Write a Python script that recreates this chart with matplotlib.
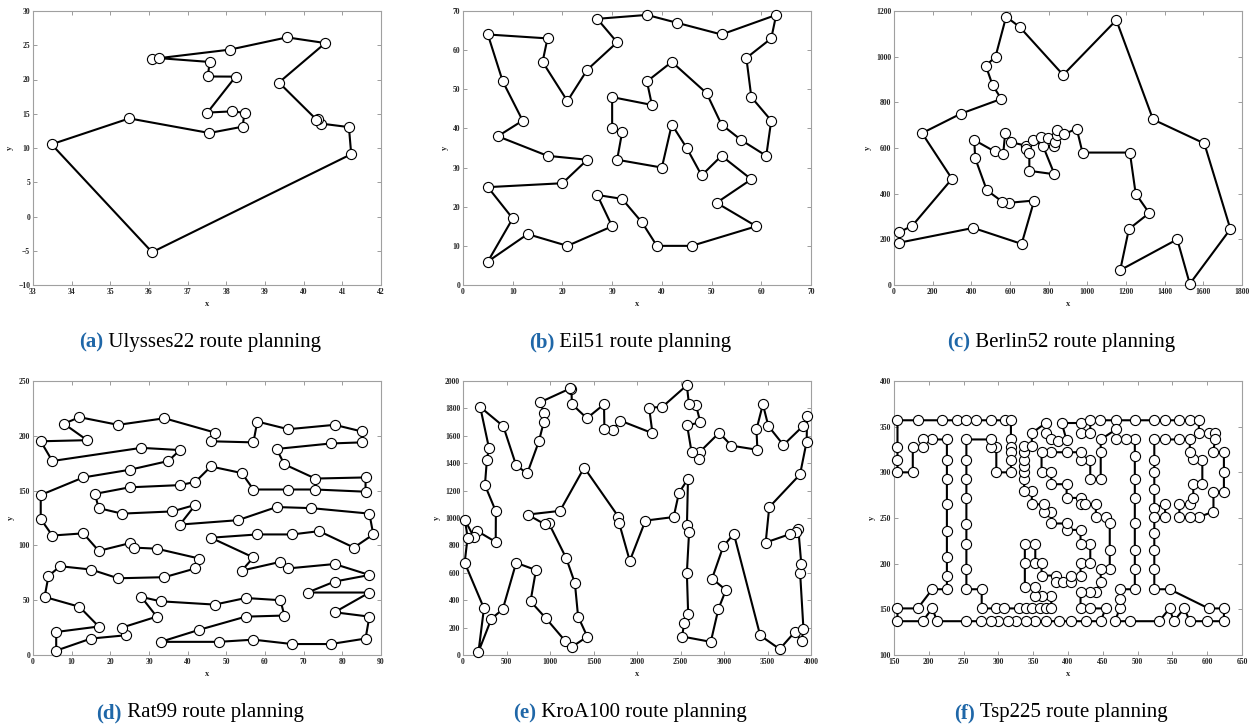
import matplotlib.pyplot as plt

# tours in visiting order, (x, y) per city
ulysses_route = [(38.09, 24.36), (36.09, 23.00), (36.26, 23.12), (37.57, 22.56), (37.52, 20.44),
                 (38.24, 20.42), (37.51, 15.17), (38.15, 15.35), (38.47, 15.13), (38.42, 13.11),
                 (37.56, 12.19), (35.49, 14.32), (33.48, 10.54), (36.08, -5.21), (41.23, 9.10),
                 (41.17, 13.05), (40.44, 13.57), (40.37, 14.23), (40.33, 14.15), (39.36, 19.56),
                 (40.56, 25.32), (39.57, 26.15)]

eil_x = [5, 17, 16, 21, 25, 31, 27, 37, 43, 52, 63, 62, 57, 58, 62, 61, 56, 52, 49, 42,
         37, 38, 30, 30, 32, 31, 40, 42, 45, 48, 52, 58, 51, 59, 46, 39, 36, 32, 27, 30,
         21, 13, 5, 10, 5, 20, 25, 17, 7, 12, 8]
eil_y = [64, 63, 57, 47, 55, 62, 68, 69, 67, 64, 69, 63, 58, 48, 42, 33, 37, 41, 49, 57,
         52, 46, 48, 40, 39, 32, 30, 41, 35, 28, 33, 27, 21, 15, 10, 10, 16, 22, 23, 15,
         10, 13, 6, 17, 25, 26, 32, 33, 38, 42, 52]

berlin_route = [(25, 185), (410, 250), (660, 180), (725, 370), (595, 360), (560, 365), (480, 415),
                (420, 555), (415, 635), (520, 585), (565, 575), (575, 665), (605, 625), (685, 610),
                (685, 595), (700, 580), (700, 500), (830, 485), (770, 610), (720, 635), (760, 650),
                (795, 645), (830, 610), (835, 625), (845, 655), (845, 680), (880, 660), (945, 685),
                (975, 580), (1220, 580), (1250, 400), (1320, 315), (1215, 245), (1170, 65),
                (1465, 200), (1530, 5), (1740, 245), (1605, 620), (1340, 725), (1150, 1160),
                (875, 920), (650, 1130), (580, 1175), (525, 1000), (475, 960), (510, 875),
                (555, 815), (345, 750), (145, 665), (300, 465), (95, 260), (25, 230)]

rat_route = [(6, 4), (15, 15), (24, 18), (23, 25), (32, 35), (28, 53), (33, 49), (47, 46), (55, 52), (64, 50),
             (65, 36), (55, 35), (43, 23), (33, 12), (48, 12), (57, 14), (67, 10), (77, 10), (86, 15), (87, 35),
             (78, 39), (87, 57), (71, 57), (78, 67), (87, 73), (78, 83), (66, 79), (64, 85), (54, 77), (57, 89),
             (46, 107), (58, 110), (67, 110), (74, 113), (83, 98), (88, 110), (87, 129), (72, 134), (63, 135),
             (53, 123), (38, 119), (42, 137), (36, 131), (23, 129), (17, 134), (16, 147), (25, 153), (38, 155),
             (42, 158), (46, 172), (54, 166), (57, 151), (66, 151), (73, 151), (86, 149), (86, 162), (73, 161),
             (65, 174), (63, 188), (77, 193), (85, 194), (85, 204), (78, 210), (66, 206), (58, 213), (57, 194),
             (46, 195), (47, 203), (34, 216), (22, 210), (12, 217), (8, 211), (14, 196), (2, 195), (5, 177),
             (28, 189), (38, 187), (35, 177), (25, 169), (13, 162), (2, 146), (2, 124), (5, 109), (13, 111),
             (17, 95), (25, 102), (26, 98), (32, 97), (43, 88), (42, 79), (34, 71), (22, 70), (15, 78), (7, 81),
             (4, 72), (3, 53), (12, 44), (17, 26), (6, 21)]

kro_route = [(178, 24), (327, 265), (457, 334), (611, 673), (839, 620), (776, 392), (953, 268), (1178, 100),
             (1256, 61), (1429, 134), (1323, 280), (1286, 525), (1187, 706), (984, 965), (938, 955),
             (742, 1025), (1115, 1052), (1393, 1368), (1787, 1009), (1795, 962), (1917, 687), (2097, 981),
             (2421, 1007), (2482, 1183), (2586, 1286), (2574, 946), (2599, 901), (2573, 599), (2588, 302),
             (2542, 236), (2519, 135), (2848, 96), (2936, 337), (3022, 474), (2863, 558), (2991, 792),
             (3113, 885), (3416, 143), (3640, 43), (3815, 169), (3893, 102), (3913, 192), (3875, 598),
             (3888, 666), (3854, 923), (3822, 899), (3756, 882), (3479, 821), (3520, 1079), (3874, 1318),
             (3950, 1558), (3955, 1743), (3911, 1673), (3683, 1533), (3510, 1671), (3447, 1830),
             (3373, 1646), (3384, 1498), (3085, 1528), (2945, 1622), (2721, 1482), (2716, 1432),
             (2628, 1479), (2576, 1676), (2728, 1698), (2678, 1825), (2597, 1830), (2573, 1969),
             (2290, 1810), (2139, 1806), (2178, 1619), (1807, 1711), (1724, 1642), (1625, 1651),
             (1621, 1830), (1424, 1728), (1251, 1832), (1247, 1945), (1234, 1946), (890, 1846),
             (929, 1766), (928, 1700), (872, 1559), (738, 1325), (611, 1384), (463, 1670), (198, 1810),
             (298, 1513), (274, 1420), (252, 1240), (378, 1048), (376, 825), (161, 906), (123, 862),
             (22, 987), (53, 857), (19, 674), (241, 341)]

tsp_route = [
    # top frame and the right half of the T
    (155, 357), (184, 357), (219, 357), (240, 357), (254, 357), (268, 357), (290, 357), (310, 357),
    (318, 357), (318, 336), (318, 328), (318, 322), (318, 314), (318, 300), (297, 300), (297, 328),
    (290, 328), (290, 336), (254, 336), (254, 314), (254, 293), (254, 272), (254, 243), (254, 222),
    (254, 194), (254, 172), (276, 172), (276, 151),
    (296, 151), (308, 151), (330, 151), (340, 151), (348, 151), (360, 151), (369, 151), (376, 151),
    # inner stroke of the S
    (376, 165), (362, 165), (353, 165), (353, 175), (338, 175), (338, 201), (338, 222), (353, 222),
    (353, 201), (362, 201), (362, 187), (383, 187), (383, 180), (393, 180), (405, 180), (405, 187),
    (418, 187), (418, 201), (432, 201), (432, 222), (418, 222), (418, 237), (398, 237), (398, 244),
    (376, 244), (376, 257), (366, 257), (366, 265), (348, 265), (348, 280), (337, 280), (337, 293),
    (337, 300), (337, 307), (337, 314), (337, 322), (337, 329), (348, 329), (348, 343), (368, 354),
    (368, 343), (376, 336), (385, 334), (398, 335), (391, 354), (418, 354), (418, 343), (432, 343),
    (432, 357), (446, 357), (469, 357), (496, 357), (524, 357), (539, 357), (560, 357), (575, 357),
    (588, 357),
    # the P
    (588, 343), (602, 343), (611, 343), (611, 336), (609, 322), (624, 322), (624, 300), (624, 279),
    (609, 279), (609, 257), (588, 251), (575, 251), (560, 251), (560, 265), (575, 265), (580, 272),
    (580, 287), (593, 287), (593, 314), (580, 315), (575, 322), (575, 336), (560, 336), (539, 336),
    (524, 336), (524, 314), (524, 300), (524, 282), (524, 261), (539, 265), (540, 251), (524, 251),
    (524, 234), (524, 215), (524, 194), (524, 172), (546, 172), (602, 151), (624, 151), (624, 137),
    # bottom right, the I, then the outer stroke of the S
    (600, 137), (575, 137), (567, 151), (552, 137), (546, 151), (531, 137), (489, 137), (468, 137),
    (474, 151), (474, 161), (474, 172), (496, 172), (496, 194), (496, 215), (496, 244), (496, 272),
    (496, 293), (496, 318), (496, 336), (483, 336), (469, 336), (469, 347), (447, 336),
    (447, 322), (447, 293), (432, 293), (432, 314), (418, 314), (418, 322), (398, 322), (376, 322),
    (362, 322), (362, 300), (376, 300), (376, 287), (398, 287), (398, 272), (418, 272), (418, 265),
    (425, 265), (440, 265), (440, 251), (454, 251), (460, 244), (460, 215), (460, 194), (447, 194),
    (447, 180), (440, 169), (432, 169), (418, 169), (418, 151), (432, 151), (454, 151), (447, 137),
    # bottom row back to the left and the left half of the T
    (426, 137), (405, 137), (387, 137), (369, 137), (353, 137), (340, 137), (326, 137), (314, 137),
    (300, 137), (290, 137), (275, 137), (254, 137), (212, 137), (205, 151), (191, 137), (155, 137),
    (155, 151), (184, 151), (205, 172), (226, 172), (226, 186), (226, 207), (226, 236), (226, 265),
    (226, 293), (226, 314), (226, 336), (205, 336), (191, 336), (191, 328), (177, 328), (177, 300),
    (155, 300), (155, 314), (155, 328),
]

tags = ["(a)", "(b)", "(c)", "(d)", "(e)", "(f)"]
names = ["Ulysses22 route planning", "Eil51 route planning", "Berlin52 route planning",
         "Rat99 route planning", "KroA100 route planning", "Tsp225 route planning"]

routes = [ulysses_route, list(zip(eil_x, eil_y)), berlin_route, rat_route, kro_route, tsp_route]
limits = [((33, 42), range(33, 43), (-10, 30), range(-10, 31, 5)),
          ((0, 70), range(0, 71, 10), (0, 70), range(0, 71, 10)),
          ((0, 1800), range(0, 1801, 200), (0, 1200), range(0, 1201, 200)),
          ((0, 90), range(0, 91, 10), (0, 250), range(0, 251, 50)),
          ((0, 4000), range(0, 4001, 500), (0, 2000), range(0, 2001, 200)),
          ((150, 650), range(150, 651, 50), (100, 400), range(100, 401, 50))]

plt.rcParams['font.family'] = ['Liberation Serif', 'DejaVu Serif']

W, H = 1257, 725
fig = plt.figure(figsize=(W / 100, H / 100), dpi=100)
col_left = [33, 463, 894]
row_bottom = [285, 655]
axw, axh = 348, 274

axes = []
for i, route in enumerate(routes):
    r, c = divmod(i, 3)
    ax = fig.add_axes([col_left[c] / W, 1 - row_bottom[r] / H, axw / W, axh / H])
    xs = [p[0] for p in route] + [route[0][0]]
    ys = [p[1] for p in route] + [route[0][1]]
    ax.plot(xs, ys, '-', color='black', lw=1.5, zorder=2, solid_joinstyle='round')
    ax.plot(xs[:-1], ys[:-1], 'o', ms=7.3, mfc='white', mec='black', mew=0.8,
            zorder=3, clip_on=False)
    xlim, xticks, ylim, yticks = limits[i]
    ax.set_xlim(xlim)
    ax.set_ylim(ylim)
    ax.set_xticks(list(xticks))
    ax.set_yticks(list(yticks))
    ax.tick_params(direction='in', top=True, right=True, length=3, width=0.6,
                   color='#8c8c8c', labelsize=5.5, labelcolor='#262626', pad=2)
    for lab in ax.get_xticklabels() + ax.get_yticklabels():
        lab.set_fontweight('bold')
    for s in ax.spines.values():
        s.set_color('#a0a0a0')
        s.set_linewidth(0.8)
    ax.set_xlabel('x', fontsize=6, fontweight='bold', labelpad=3, color='#262626')
    ax.set_ylabel('y', fontsize=6, fontweight='bold', labelpad=3, color='#262626')
    axes.append(ax)

# captions: bold blue tag followed by the plain name, centred under each panel
fig.canvas.draw()
renderer = fig.canvas.get_renderer()
cap_y = [H - 342, H - 713]
for i in range(6):
    r, c = divmod(i, 3)
    cx = col_left[c] + axw / 2 - 7
    t1 = fig.text(0, cap_y[r] / H, tags[i], color='#1f67a8', fontweight='bold',
                  fontsize=15, va='center', ha='left')
    t2 = fig.text(0, cap_y[r] / H, ' ' + names[i], color='black',
                  fontsize=15, va='center', ha='left')
    w1 = t1.get_window_extent(renderer).width
    w2 = t2.get_window_extent(renderer).width
    start = cx - (w1 + w2) / 2
    t1.set_x(start / W)
    t2.set_x((start + w1) / W)

fig.savefig('out.png', dpi=100)
